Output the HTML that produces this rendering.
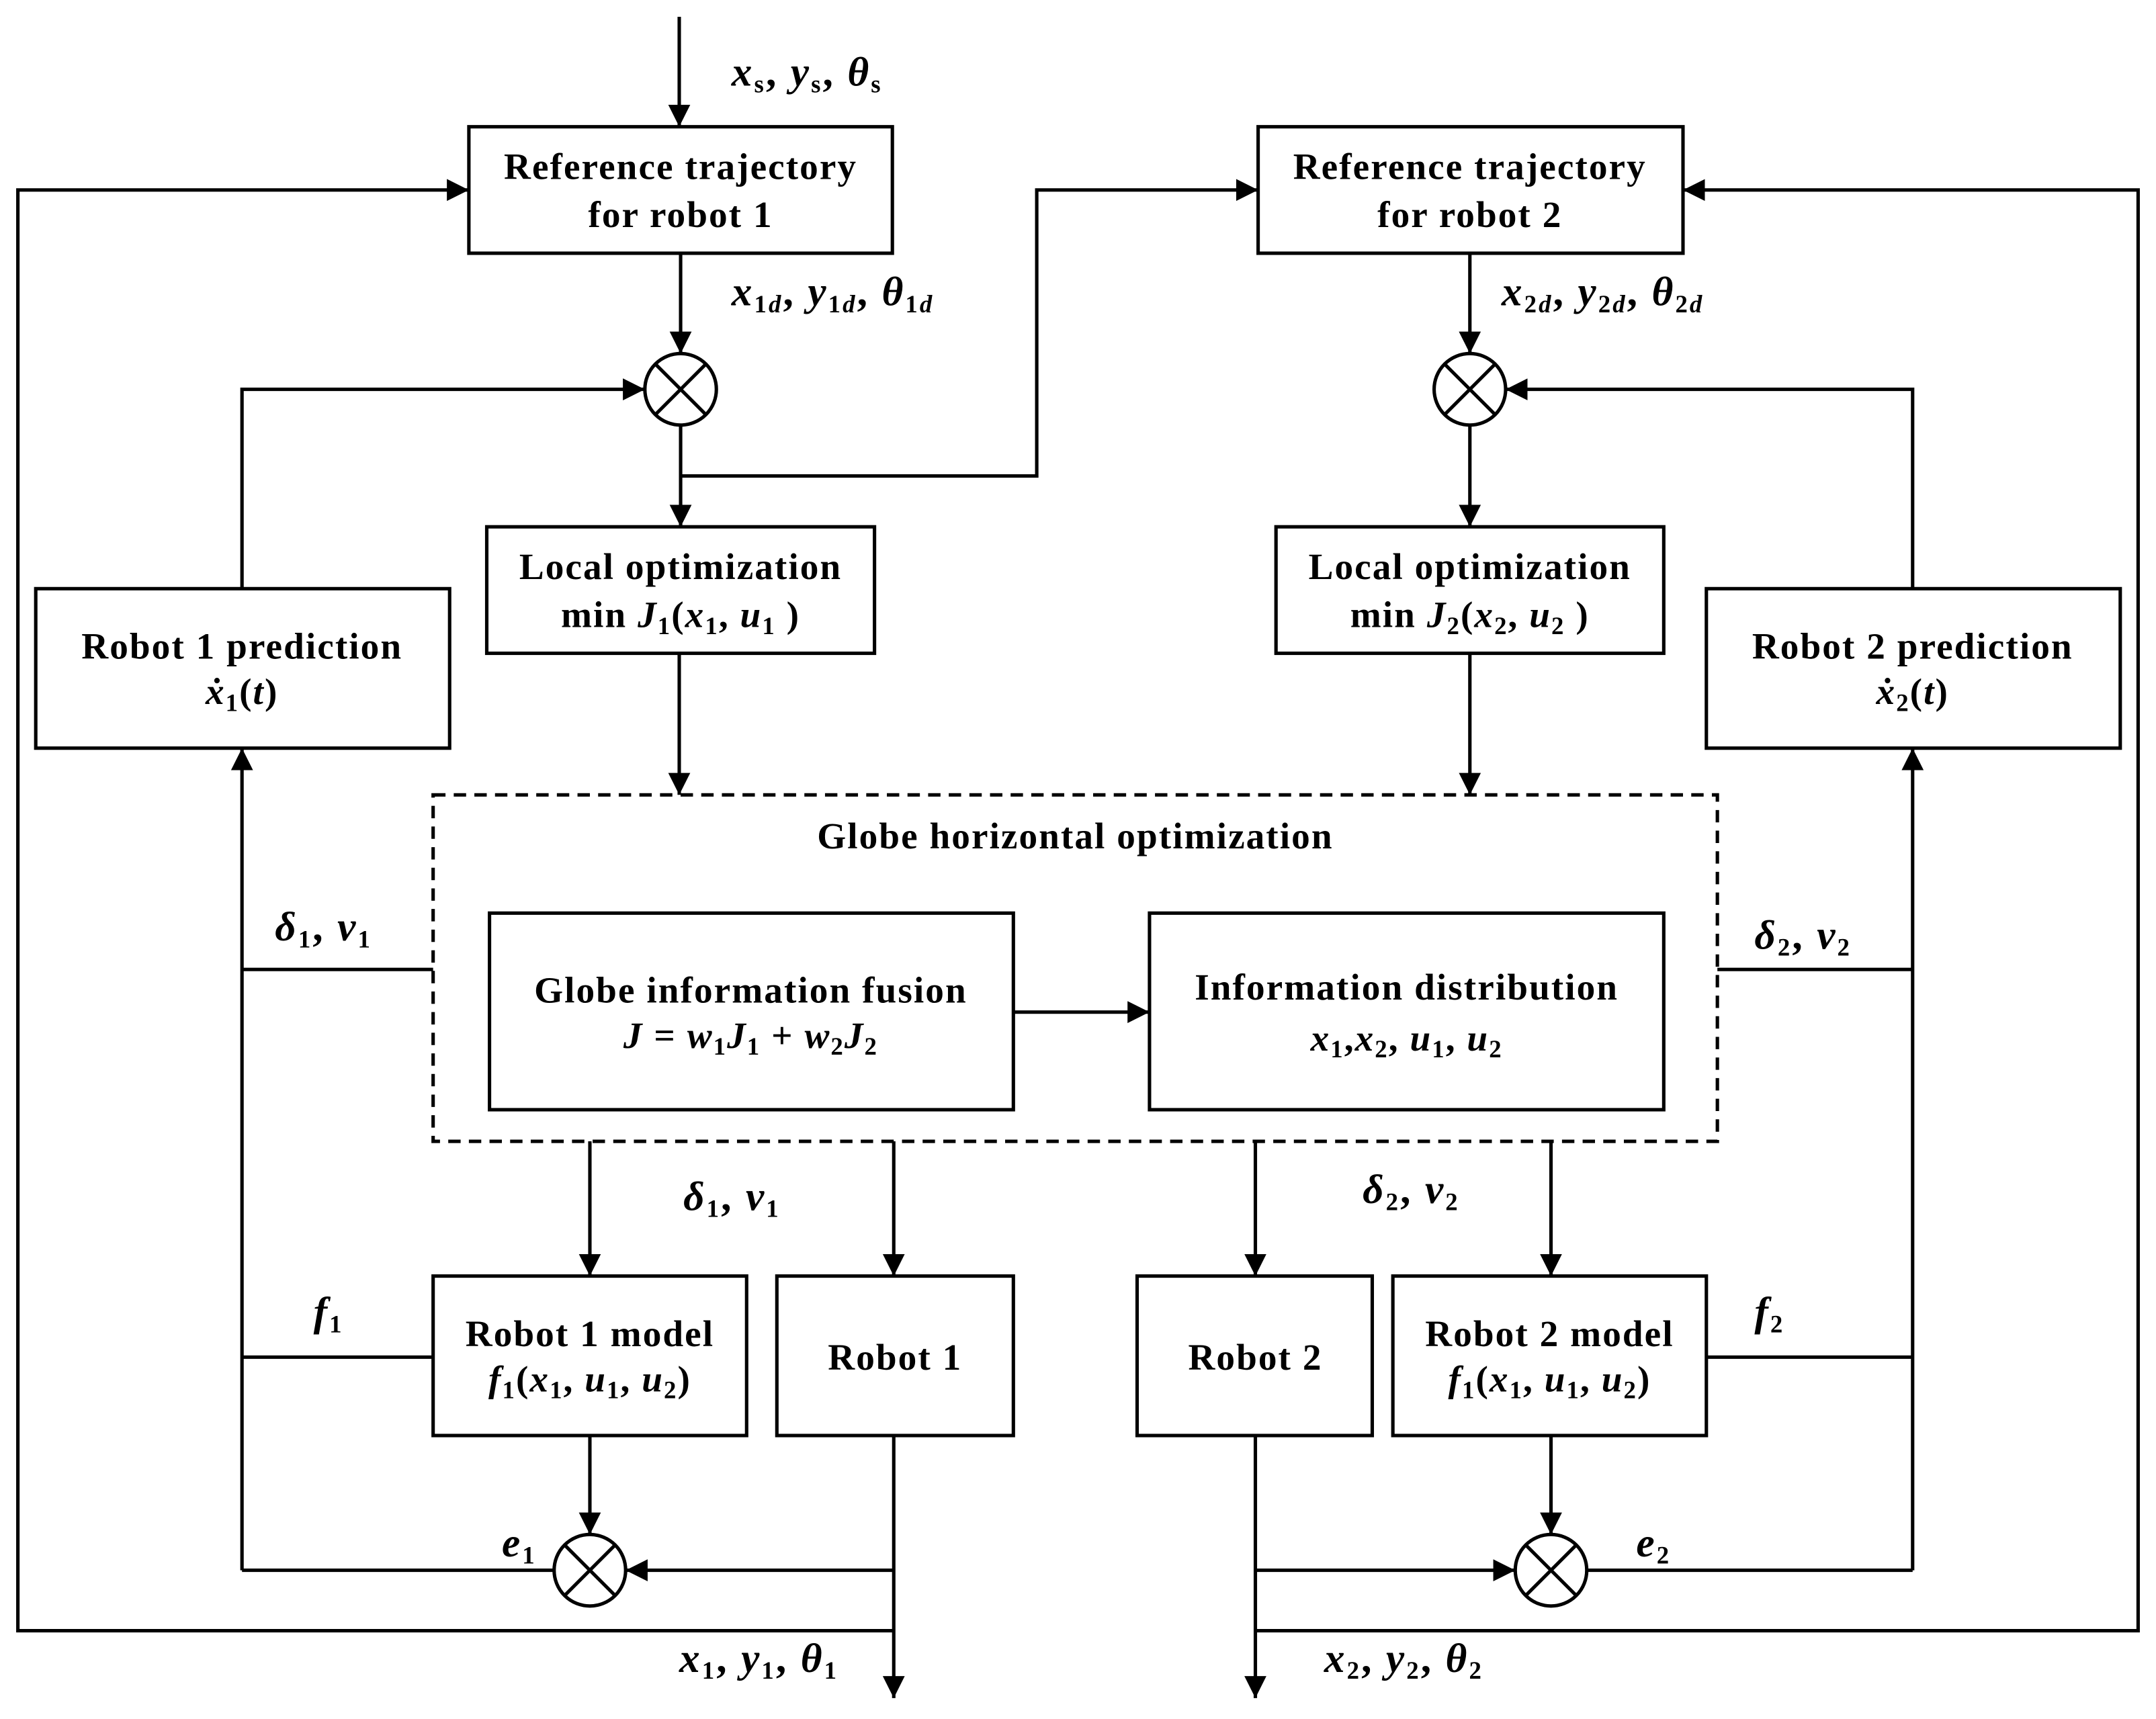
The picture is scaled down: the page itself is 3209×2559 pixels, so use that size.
<!DOCTYPE html>
<html><head><meta charset="utf-8"><style>
html,body{margin:0;padding:0;background:#fff}
svg{display:block}
text{font-family:"Liberation Serif",serif;font-weight:bold;font-size:27px;letter-spacing:1px;fill:#000}
.m{font-style:italic}
.s{font-style:normal;font-size:18px}
.lab{font-size:30px;letter-spacing:1.5px}
</style></head><body>
<svg width="3209" height="2559" viewBox="0 0 1568 1250" xmlns="http://www.w3.org/2000/svg">
<defs><marker id="a" viewBox="0 0 10 10" refX="10" refY="5" markerWidth="16" markerHeight="16" markerUnits="userSpaceOnUse" orient="auto"><path d="M0,0 L10,5 L0,10 z" fill="#000"/></marker></defs>
<g stroke="#000" stroke-width="2.5" fill="none">
<rect x="341" y="92" width="308" height="92"/>
<rect x="915" y="92" width="309" height="92"/>
<rect x="354" y="383" width="282" height="92"/>
<rect x="928" y="383" width="282" height="92"/>
<rect x="26" y="428" width="301" height="116"/>
<rect x="1241" y="428" width="301" height="116"/>
<rect x="315" y="578" width="934" height="252" stroke-dasharray="9,6"/>
<rect x="356" y="664" width="381" height="143"/>
<rect x="836" y="664" width="374" height="143"/>
<rect x="315" y="928" width="228" height="116"/>
<rect x="565" y="928" width="172" height="116"/>
<rect x="827" y="928" width="171" height="116"/>
<rect x="1013" y="928" width="228" height="116"/>
<circle cx="495" cy="283" r="26"/><path d="M477,265 L513,301 M513,265 L477,301"/>
<circle cx="1069" cy="283" r="26"/><path d="M1051,265 L1087,301 M1087,265 L1051,301"/>
<circle cx="429" cy="1142" r="26"/><path d="M411,1124 L447,1160 M447,1124 L411,1160"/>
<circle cx="1128" cy="1142" r="26"/><path d="M1110,1124 L1146,1160 M1146,1124 L1110,1160"/>
<g marker-end="url(#a)">
<path d="M494,12 V92"/>
<path d="M495,184 V257"/>
<path d="M1069,184 V257"/>
<path d="M176,428 V283 H469"/>
<path d="M1391,428 V283 H1095"/>
<path d="M495,309 V383"/>
<path d="M495,346 H754 V138 H915"/>
<path d="M1069,309 V383"/>
<path d="M494,475 V578"/>
<path d="M1069,475 V578"/>
<path d="M737,736 H836"/>
<path d="M176,1142 V544"/>
<path d="M1391,1142 V544"/>
<path d="M429,830 V928"/>
<path d="M650,830 V928"/>
<path d="M913,830 V928"/>
<path d="M1128,830 V928"/>
<path d="M429,1044 V1116"/>
<path d="M1128,1044 V1116"/>
<path d="M650,1044 V1235"/>
<path d="M913,1044 V1235"/>
<path d="M650,1142 H455"/>
<path d="M913,1142 H1102"/>
<path d="M650,1186 H13 V138 H341"/>
<path d="M913,1186 H1555 V138 H1224"/>
</g>
<path d="M315,705 H176"/>
<path d="M1249,705 H1391"/>
<path d="M315,987 H176"/>
<path d="M1241,987 H1391"/>
<path d="M403,1142 H176"/>
<path d="M1154,1142 H1391"/>
</g>
<g text-anchor="middle">
<text x="495" y="130">Reference trajectory</text>
<text x="495" y="165">for robot 1</text>
<text x="1069" y="130">Reference trajectory</text>
<text x="1069" y="165">for robot 2</text>
<text x="495" y="421">Local optimization</text>
<text x="495" y="456">min <tspan class="m">J</tspan><tspan class="s" dy="5">1</tspan><tspan dy="-5">(</tspan><tspan class="m">x</tspan><tspan class="s" dy="5">1</tspan><tspan dy="-5">, </tspan><tspan class="m">u</tspan><tspan class="s" dy="5">1</tspan><tspan dy="-5"> )</tspan></text>
<text x="1069" y="421">Local optimization</text>
<text x="1069" y="456">min <tspan class="m">J</tspan><tspan class="s" dy="5">2</tspan><tspan dy="-5">(</tspan><tspan class="m">x</tspan><tspan class="s" dy="5">2</tspan><tspan dy="-5">, </tspan><tspan class="m">u</tspan><tspan class="s" dy="5">2</tspan><tspan dy="-5"> )</tspan></text>
<text x="176" y="479">Robot 1 prediction</text>
<text x="176" y="512"><tspan class="m">ẋ</tspan><tspan class="s" dy="5">1</tspan><tspan dy="-5">(</tspan><tspan class="m">t</tspan>)</text>
<text x="1391" y="479">Robot 2 prediction</text>
<text x="1391" y="512"><tspan class="m">ẋ</tspan><tspan class="s" dy="5">2</tspan><tspan dy="-5">(</tspan><tspan class="m">t</tspan>)</text>
<text x="782" y="617">Globe horizontal optimization</text>
<text x="546" y="729">Globe information fusion</text>
<text x="546" y="762"><tspan class="m">J</tspan> = <tspan class="m">w</tspan><tspan class="s" dy="5">1</tspan><tspan class="m" dy="-5">J</tspan><tspan class="s" dy="5">1</tspan><tspan dy="-5"> + </tspan><tspan class="m">w</tspan><tspan class="s" dy="5">2</tspan><tspan class="m" dy="-5">J</tspan><tspan class="s" dy="5">2</tspan></text>
<text x="1023" y="727">Information distribution</text>
<text x="1023" y="764"><tspan class="m">x</tspan><tspan class="s" dy="5">1</tspan><tspan dy="-5">,</tspan><tspan class="m">x</tspan><tspan class="s" dy="5">2</tspan><tspan dy="-5">, </tspan><tspan class="m">u</tspan><tspan class="s" dy="5">1</tspan><tspan dy="-5">, </tspan><tspan class="m">u</tspan><tspan class="s" dy="5">2</tspan></text>
<text x="429" y="979">Robot 1 model</text>
<text x="429" y="1012"><tspan class="m">f</tspan><tspan class="s" dy="5">1</tspan><tspan dy="-5">(</tspan><tspan class="m">x</tspan><tspan class="s" dy="5">1</tspan><tspan dy="-5">, </tspan><tspan class="m">u</tspan><tspan class="s" dy="5">1</tspan><tspan dy="-5">, </tspan><tspan class="m">u</tspan><tspan class="s" dy="5">2</tspan><tspan dy="-5">)</tspan></text>
<text x="651" y="996">Robot 1</text>
<text x="913" y="996">Robot 2</text>
<text x="1127" y="979">Robot 2 model</text>
<text x="1127" y="1012"><tspan class="m">f</tspan><tspan class="s" dy="5">1</tspan><tspan dy="-5">(</tspan><tspan class="m">x</tspan><tspan class="s" dy="5">1</tspan><tspan dy="-5">, </tspan><tspan class="m">u</tspan><tspan class="s" dy="5">1</tspan><tspan dy="-5">, </tspan><tspan class="m">u</tspan><tspan class="s" dy="5">2</tspan><tspan dy="-5">)</tspan></text>
</g>
<g class="lab">
<text class="lab" x="532" y="62"><tspan class="m">x</tspan><tspan class="s" dy="5">s</tspan><tspan dy="-5">, </tspan><tspan class="m">y</tspan><tspan class="s" dy="5">s</tspan><tspan dy="-5">, </tspan><tspan class="m">θ</tspan><tspan class="s" dy="5">s</tspan></text>
<text class="lab" x="532" y="222"><tspan class="m">x</tspan><tspan class="s" dy="5">1<tspan class="m">d</tspan></tspan><tspan dy="-5">, </tspan><tspan class="m">y</tspan><tspan class="s" dy="5">1<tspan class="m">d</tspan></tspan><tspan dy="-5">, </tspan><tspan class="m">θ</tspan><tspan class="s" dy="5">1<tspan class="m">d</tspan></tspan></text>
<text class="lab" x="1092" y="222"><tspan class="m">x</tspan><tspan class="s" dy="5">2<tspan class="m">d</tspan></tspan><tspan dy="-5">, </tspan><tspan class="m">y</tspan><tspan class="s" dy="5">2<tspan class="m">d</tspan></tspan><tspan dy="-5">, </tspan><tspan class="m">θ</tspan><tspan class="s" dy="5">2<tspan class="m">d</tspan></tspan></text>
<text class="lab" x="200" y="684"><tspan class="m">δ</tspan><tspan class="s" dy="5">1</tspan><tspan dy="-5">, </tspan><tspan class="m">v</tspan><tspan class="s" dy="5">1</tspan></text>
<text class="lab" x="1276" y="690"><tspan class="m">δ</tspan><tspan class="s" dy="5">2</tspan><tspan dy="-5">, </tspan><tspan class="m">v</tspan><tspan class="s" dy="5">2</tspan></text>
<text class="lab" x="497" y="880"><tspan class="m">δ</tspan><tspan class="s" dy="5">1</tspan><tspan dy="-5">, </tspan><tspan class="m">v</tspan><tspan class="s" dy="5">1</tspan></text>
<text class="lab" x="991" y="875"><tspan class="m">δ</tspan><tspan class="s" dy="5">2</tspan><tspan dy="-5">, </tspan><tspan class="m">v</tspan><tspan class="s" dy="5">2</tspan></text>
<text class="lab" x="228" y="964"><tspan class="m">f</tspan><tspan class="s" dy="5">1</tspan></text>
<text class="lab" x="1276" y="964"><tspan class="m">f</tspan><tspan class="s" dy="5">2</tspan></text>
<text class="lab" x="365" y="1132"><tspan class="m">e</tspan><tspan class="s" dy="5">1</tspan></text>
<text class="lab" x="1190" y="1132"><tspan class="m">e</tspan><tspan class="s" dy="5">2</tspan></text>
<text class="lab" x="494" y="1216"><tspan class="m">x</tspan><tspan class="s" dy="5">1</tspan><tspan dy="-5">, </tspan><tspan class="m">y</tspan><tspan class="s" dy="5">1</tspan><tspan dy="-5">, </tspan><tspan class="m">θ</tspan><tspan class="s" dy="5">1</tspan></text>
<text class="lab" x="963" y="1216"><tspan class="m">x</tspan><tspan class="s" dy="5">2</tspan><tspan dy="-5">, </tspan><tspan class="m">y</tspan><tspan class="s" dy="5">2</tspan><tspan dy="-5">, </tspan><tspan class="m">θ</tspan><tspan class="s" dy="5">2</tspan></text>
</g>
</svg>
</body></html>
